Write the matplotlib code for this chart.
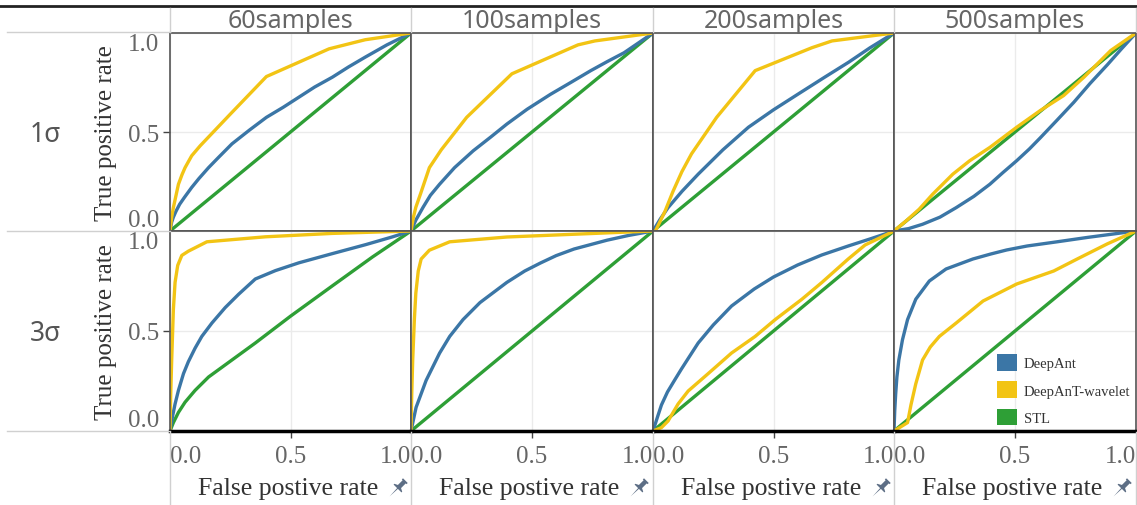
import matplotlib
matplotlib.use('Agg')
import matplotlib.pyplot as plt
from matplotlib.lines import Line2D
from matplotlib.patches import Patch
from matplotlib.path import Path
from matplotlib.markers import MarkerStyle
from matplotlib.transforms import Affine2D

# 图片尺寸 (像素)
W, H = 1137, 506
SERIF = ['Liberation Serif', 'DejaVu Serif']
SANS = ['Noto Sans', 'DejaVu Sans']

samples = ['60samples', '100samples', '200samples', '500samples']
sigmas = ['1σ', '3σ']
series_names = ['DeepAnt', 'DeepAnT-wavelet', 'STL']
colors = ['#3b76a6', '#f2c414', '#2e9f36']

# ---- 1σ ----
deepant_1s_60 = [[0, 0.007, 0.014, 0.025, 0.04, 0.06, 0.09, 0.12, 0.16, 0.2, 0.257, 0.33, 0.40, 0.47,
                  0.535, 0.6, 0.674, 0.74, 0.81, 0.9, 1.0],
                 [0, 0.045, 0.07, 0.1, 0.135, 0.17, 0.22, 0.265, 0.32, 0.37, 0.44, 0.51, 0.574, 0.625,
                  0.676, 0.727, 0.777, 0.828, 0.878, 0.94, 1.0]]
wavelet_1s_60 = [[0, 0.007, 0.014, 0.025, 0.035, 0.05, 0.0625, 0.09, 0.125, 0.25, 0.40, 0.66, 0.81, 1.0],
                 [0, 0.07, 0.118, 0.18, 0.236, 0.285, 0.32, 0.38, 0.43, 0.59, 0.78, 0.92, 0.966, 1.0]]
stl_1s_60 = [[0, 1.0], [0, 1.0]]

deepant_1s_100 = [[0, 0.02, 0.05, 0.08, 0.118, 0.18, 0.257, 0.33, 0.396, 0.48, 0.576, 0.66, 0.743,
                   0.81, 0.88, 0.94, 1.0],
                  [0, 0.055, 0.12, 0.18, 0.236, 0.32, 0.405, 0.475, 0.54, 0.615, 0.69, 0.75, 0.81,
                   0.855, 0.9, 0.95, 1.0]]
wavelet_1s_100 = [[0, 0.01, 0.02, 0.04, 0.076, 0.125, 0.23, 0.417, 0.69, 0.76, 1.0],
                  [0, 0.07, 0.12, 0.19, 0.32, 0.41, 0.574, 0.794, 0.94, 0.96, 1.0]]
stl_1s_100 = [[0, 1.0], [0, 1.0]]

deepant_1s_200 = [[0, 0.03, 0.0625, 0.12, 0.1875, 0.29, 0.396, 0.5, 0.604, 0.71, 0.8125, 0.9, 1.0],
                  [0, 0.06, 0.118, 0.2, 0.287, 0.41, 0.524, 0.612, 0.693, 0.775, 0.853, 0.925, 1.0]]
wavelet_1s_200 = [[0.01, 0.03, 0.05, 0.083, 0.12, 0.16, 0.264, 0.424, 0.66, 0.743, 1.0],
                  [0, 0.05, 0.1, 0.2, 0.3, 0.39, 0.574, 0.81, 0.926, 0.96, 1.0]]
stl_1s_200 = [[0, 1.0], [0, 1.0]]

deepant_1s_500 = [[0, 0.06, 0.118, 0.19, 0.257, 0.33, 0.396, 0.45, 0.507, 0.56, 0.604, 0.67, 0.743,
                   0.81, 0.882, 0.94, 1.0],
                  [0, 0.012, 0.034, 0.07, 0.118, 0.175, 0.236, 0.295, 0.355, 0.415, 0.47, 0.555, 0.65,
                   0.745, 0.84, 0.92, 1.0]]
wavelet_1s_500 = [[0, 0.049, 0.104, 0.16, 0.243, 0.313, 0.396, 0.507, 0.604, 0.701, 0.785, 0.896, 1.0],
                  [0, 0.05, 0.11, 0.186, 0.287, 0.355, 0.422, 0.524, 0.608, 0.684, 0.777, 0.912, 1.0]]
stl_1s_500 = [[0, 1.0], [0, 1.0]]

# ---- 3σ ----
deepant_3s_60 = [[0, 0.0097, 0.021, 0.035, 0.056, 0.076, 0.104, 0.132, 0.174, 0.229, 0.285, 0.354,
                  0.4375, 0.535, 0.674, 0.8125, 0.924, 1.0],
                 [0, 0.068, 0.135, 0.203, 0.287, 0.346, 0.414, 0.473, 0.54, 0.617, 0.684, 0.76,
                  0.802, 0.841, 0.887, 0.932, 0.971, 1.0]]
wavelet_3s_60 = [[0, 0.003, 0.007, 0.014, 0.021, 0.032, 0.049, 0.076, 0.153, 0.396, 0.674, 1.0],
                 [0, 0.186, 0.355, 0.608, 0.743, 0.828, 0.878, 0.899, 0.946, 0.971, 0.988, 1.0]]
stl_3s_60 = [[0, 0.014, 0.035, 0.0625, 0.104, 0.16, 0.257, 0.354, 0.5, 0.674, 0.84, 1.0],
             [0, 0.042, 0.093, 0.144, 0.203, 0.27, 0.355, 0.44, 0.574, 0.726, 0.87, 1.0]]

deepant_3s_100 = [[0, 0.021, 0.0625, 0.118, 0.16, 0.215, 0.285, 0.396, 0.47, 0.535, 0.6, 0.674,
                   0.81, 0.9, 1.0],
                  [0, 0.118, 0.253, 0.389, 0.473, 0.557, 0.642, 0.743, 0.8, 0.84, 0.877, 0.91,
                   0.954, 0.978, 1.0]]
wavelet_3s_100 = [[0, 0.003, 0.007, 0.014, 0.02, 0.03, 0.042, 0.076, 0.16, 0.396, 1.0],
                  [0, 0.18, 0.355, 0.56, 0.69, 0.8, 0.86, 0.904, 0.946, 0.97, 1.0]]
stl_3s_100 = [[0, 1.0], [0, 1.0]]

deepant_3s_200 = [[0, 0.02, 0.035, 0.06, 0.09, 0.118, 0.15, 0.1875, 0.25, 0.326, 0.42, 0.5, 0.6,
                   0.7, 0.81, 0.9, 1.0],
                  [0, 0.075, 0.13, 0.195, 0.255, 0.31, 0.37, 0.44, 0.53, 0.625, 0.71, 0.77, 0.83,
                   0.88, 0.925, 0.96, 1.0]]
wavelet_3s_200 = [[0, 0.035, 0.0625, 0.104, 0.146, 0.229, 0.326, 0.424, 0.507, 0.618, 0.701, 0.81, 0.88, 1.0],
                  [0, 0.017, 0.05, 0.135, 0.2, 0.287, 0.39, 0.473, 0.557, 0.659, 0.743, 0.86, 0.93, 1.0]]
stl_3s_200 = [[0, 1.0], [0, 1.0]]

deepant_3s_500 = [[0, 0.003, 0.007, 0.012, 0.02, 0.035, 0.056, 0.09, 0.146, 0.215, 0.326, 0.4, 0.465,
                   0.55, 0.674, 0.8, 1.0],
                  [0, 0.1, 0.186, 0.27, 0.355, 0.456, 0.557, 0.659, 0.75, 0.81, 0.86, 0.885, 0.905,
                   0.925, 0.946, 0.968, 1.0]]
wavelet_3s_500 = [[0, 0.056, 0.07, 0.09, 0.118, 0.15, 0.1875, 0.257, 0.368, 0.507, 0.66, 0.757, 0.882, 1.0],
                  [0, 0.042, 0.13, 0.236, 0.355, 0.42, 0.473, 0.54, 0.65, 0.735, 0.80, 0.86, 0.936, 1.0]]
stl_3s_500 = [[0, 1.0], [0, 1.0]]

curves = [
    [(deepant_1s_60, wavelet_1s_60, stl_1s_60), (deepant_1s_100, wavelet_1s_100, stl_1s_100),
     (deepant_1s_200, wavelet_1s_200, stl_1s_200), (deepant_1s_500, wavelet_1s_500, stl_1s_500)],
    [(deepant_3s_60, wavelet_3s_60, stl_3s_60), (deepant_3s_100, wavelet_3s_100, stl_3s_100),
     (deepant_3s_200, wavelet_3s_200, stl_3s_200), (deepant_3s_500, wavelet_3s_500, stl_3s_500)],
]

col_edges = [170, 411, 653, 894, 1136]
row_edges = [34, 232, 432]


def fx(px):
    return px / W


def fy(py):
    return 1 - py / H


fig = plt.figure(figsize=(W / 100, H / 100), dpi=100)

for r in range(2):
    for c in range(4):
        left, right = col_edges[c], col_edges[c + 1]
        top, bottom = row_edges[r], row_edges[r + 1]
        ax = fig.add_axes([fx(left), fy(bottom), (right - left) / W, (bottom - top) / H])
        deep, wav, stl = curves[r][c]
        # 画线顺序: STL, DeepAnt, wavelet
        ax.plot(stl[0], stl[1], color=colors[2], lw=2.4, solid_joinstyle='round')
        ax.plot(deep[0], deep[1], color=colors[0], lw=2.4, solid_joinstyle='round')
        ax.plot(wav[0], wav[1], color=colors[1], lw=2.4, solid_joinstyle='round')
        ax.set_xlim(0, 1)
        ax.set_ylim(0, 1)
        ax.set_xticks([0, 0.5, 1])
        ax.set_yticks([0, 0.5, 1])
        ax.set_xticklabels(['0.0', '0.5', '1.0'])
        ax.set_yticklabels(['0.0', '0.5', '1.0'])
        ax.grid(True, color='#ebebeb', lw=1)
        ax.set_axisbelow(True)
        for sp in ax.spines.values():
            sp.set_color('#555555')
            sp.set_linewidth(1.2)
        ax.tick_params(direction='out', length=5, width=1, color='#444444',
                       labelcolor='#666666', labelsize=18, pad=3)
        ax.tick_params(axis='x', pad=5)
        for lab in ax.get_xticklabels() + ax.get_yticklabels():
            lab.set_family(SERIF)
        for t in ax.xaxis.get_major_ticks()[::2] + ax.yaxis.get_major_ticks()[::2]:
            t.tick1line.set_visible(False)
        xl = ax.get_xticklabels()
        xl[0].set_ha('left')
        xl[2].set_ha('right')
        yl = ax.get_yticklabels()
        yl[0].set_va('bottom')
        yl[2].set_va('top')
        if c > 0:
            ax.tick_params(left=False, labelleft=False)
        if r == 0:
            ax.tick_params(bottom=False, labelbottom=False)
        else:
            ax.spines['bottom'].set_color('black')
            ax.spines['bottom'].set_linewidth(2.5)
        if r == 1 and c == 3:
            handles = [Patch(facecolor=col, edgecolor='none') for col in colors]
            leg = ax.legend(handles, series_names, loc='lower right', frameon=False,
                            prop={'family': SERIF, 'size': 10.5},
                            handlelength=1.35, handleheight=1.35, handletextpad=0.45,
                            labelspacing=0.75, borderaxespad=0.2, borderpad=0.2)
            for txt in leg.get_texts():
                txt.set_color('#333333')

# 列标题 / 行标题
for c, name in enumerate(samples):
    cx = (col_edges[c] + col_edges[c + 1]) / 2
    fig.text(fx(cx), fy(21), name, ha='center', va='center', family=SANS,
             fontsize=18, color='#666666')
row_centers = [133, 332]
for r, name in enumerate(sigmas):
    fig.text(fx(45), fy(row_centers[r] + 2), name, ha='center', va='center', family=SANS,
             fontsize=19, color='#555555')
    fig.text(fx(106), fy(row_centers[r]), 'True positive rate', rotation=90, ha='center',
             va='center', family=SERIF, fontsize=18, color='#333333')

# 图钉图标
pin_verts = [(-0.3, 1.0), (0.3, 1.0), (0.3, 0.85), (0.2, 0.85), (0.2, 0.25), (0.5, 0.1),
             (0.5, 0.0), (0.05, 0.0), (0.0, -1.0), (-0.05, 0.0), (-0.5, 0.0), (-0.5, 0.1),
             (-0.2, 0.25), (-0.2, 0.85), (-0.3, 0.85), (-0.3, 1.0)]
pin_path = Path(pin_verts, closed=True)
pin_marker = MarkerStyle(pin_path, transform=Affine2D().rotate_deg(-45))

for c in range(4):
    left, right = col_edges[c], col_edges[c + 1]
    wd = right - left
    fig.text(fx(left + 0.49 * wd), fy(489), 'False postive rate', ha='center', va='center',
             family=SERIF, fontsize=18.5, color='#333333')
    fig.add_artist(Line2D([fx(left + 0.94 * wd)], [fy(489)], marker=pin_marker, markersize=16,
                          color='#5d6e85', markeredgewidth=0, linestyle='none',
                          transform=fig.transFigure))

# 分隔线
gray = '#d0d0d0'
fig.add_artist(Line2D([0, 1], [fy(7), fy(7)], color='#222222', lw=2, transform=fig.transFigure))
for py in [33, 232, 432]:
    fig.add_artist(Line2D([fx(7), fx(170)], [fy(py), fy(py)], color=gray, lw=1,
                          transform=fig.transFigure))
for px in col_edges:
    fig.add_artist(Line2D([fx(px), fx(px)], [fy(9), fy(33)], color=gray, lw=1,
                          transform=fig.transFigure))
    fig.add_artist(Line2D([fx(px), fx(px)], [fy(433), fy(506)], color=gray, lw=1,
                          transform=fig.transFigure))

fig.savefig('out.png', dpi=100)
